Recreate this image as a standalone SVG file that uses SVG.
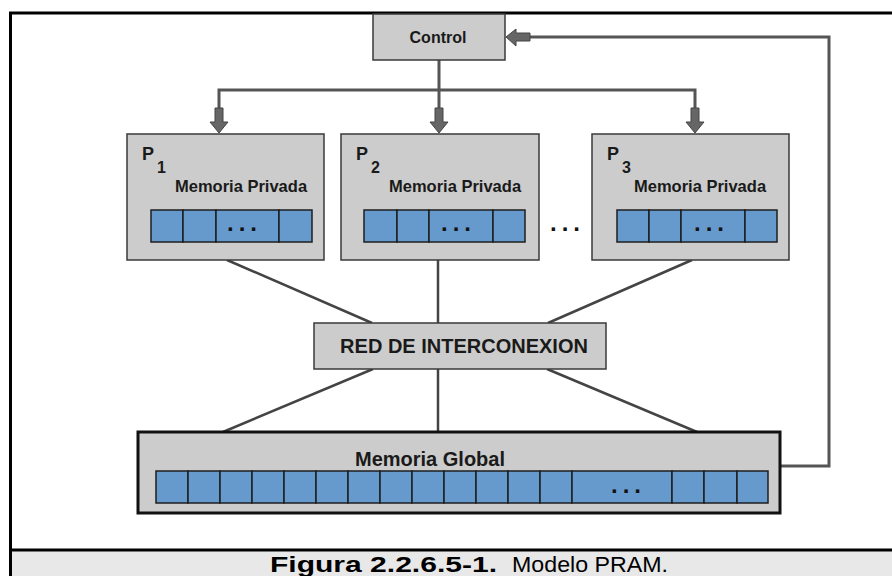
<svg xmlns="http://www.w3.org/2000/svg" width="892" height="576" viewBox="0 0 892 576">
<style>
.box{fill:#cccccc;stroke:#3a3a3a;stroke-width:1.5}
.cell{fill:#6699cc;stroke:#1e1e1e;stroke-width:1.5}
.ln{fill:none;stroke:#444;stroke-width:2.5}
.ctl{fill:none;stroke:#555;stroke-width:3}
.arr{fill:#666;stroke:#444;stroke-width:1}
.t{font-family:"Liberation Sans",Arial,sans-serif;font-weight:bold;fill:#1a1a1a}
.dots{font-family:"Liberation Sans",Arial,sans-serif;font-weight:bold;font-size:24px;fill:#111;letter-spacing:5px}
</style>
<defs>
<path id="downArrow" class="arr" d="M-4,0 L4,0 L4,14 L9,14 L0,25 L-9,14 L-4,14 Z"/>
</defs>
<rect x="0" y="0" width="892" height="576" fill="#ffffff"/>
<rect x="10" y="550" width="882" height="26" fill="#e8e8e8"/>
<g id="frame" fill="none" stroke="#000" stroke-width="3">
<path d="M10.5,576 L10.5,13 L892,13"/>
<path d="M10,550 L892,550"/>
</g>
<g id="connectors">
<path class="ctl" d="M439,60 L439,108"/>
<path class="ctl" d="M219,108 L219,90 L695,90 L695,108"/>
<path class="ctl" d="M780,466 L829,466 L829,37 L530,37"/>
<path class="arr" d="M530,33 L516,33 L516,29 L506,37 L516,46 L516,41 L530,41 Z"/>
<use href="#downArrow" x="219" y="108"/>
<use href="#downArrow" x="439" y="108"/>
<use href="#downArrow" x="695" y="108"/>
<path class="ln" d="M227,260 L372,323"/>
<path class="ln" d="M438,260 L438,323"/>
<path class="ln" d="M692,260 L548,323"/>
<path class="ln" d="M373,369 L223,432"/>
<path class="ln" d="M438,369 L438,432"/>
<path class="ln" d="M547,369 L697,432"/>
</g>
<g id="control">
<rect class="box" x="373" y="14" width="132" height="46"/>
<text class="t" x="438" y="43" font-size="16" text-anchor="middle">Control</text>
</g>
<g id="p1">
<rect class="box" x="127" y="134" width="197" height="126"/>
<text class="t" x="142" y="160" font-size="18">P</text>
<text class="t" x="157" y="173" font-size="16">1</text>
<text class="t" x="175" y="192" font-size="16.5">Memoria Privada</text>
<rect class="cell" x="151" y="210" width="32" height="32"/>
<rect class="cell" x="183" y="210" width="33" height="32"/>
<rect class="cell" x="216" y="210" width="63" height="32"/>
<rect class="cell" x="279" y="210" width="33" height="32"/>
<text class="dots" x="227" y="231">...</text>
</g>
<g id="p2">
<rect class="box" x="341" y="134" width="198" height="126"/>
<text class="t" x="356" y="160" font-size="18">P</text>
<text class="t" x="371" y="173" font-size="16">2</text>
<text class="t" x="389" y="192" font-size="16.5">Memoria Privada</text>
<rect class="cell" x="364" y="210" width="33" height="32"/>
<rect class="cell" x="397" y="210" width="32" height="32"/>
<rect class="cell" x="429" y="210" width="64" height="32"/>
<rect class="cell" x="493" y="210" width="32" height="32"/>
<text class="dots" x="441" y="231">...</text>
</g>
<g id="ellipsis">
<text class="dots" x="550" y="231">...</text>
</g>
<g id="p3">
<rect class="box" x="592" y="134" width="197" height="126"/>
<text class="t" x="607" y="160" font-size="18">P</text>
<text class="t" x="622" y="173" font-size="16">3</text>
<text class="t" x="634" y="192" font-size="16.5">Memoria Privada</text>
<rect class="cell" x="617" y="210" width="32" height="32"/>
<rect class="cell" x="649" y="210" width="32" height="32"/>
<rect class="cell" x="681" y="210" width="64" height="32"/>
<rect class="cell" x="745" y="210" width="32" height="32"/>
<text class="dots" x="694" y="231">...</text>
</g>
<g id="red">
<rect class="box" x="314" y="323" width="292" height="46"/>
<text class="t" x="464" y="353" font-size="20" text-anchor="middle">RED DE INTERCONEXION</text>
</g>
<g id="global">
<rect x="138" y="432" width="642" height="81" fill="#cccccc" stroke="#111" stroke-width="3"/>
<text class="t" x="430" y="466" font-size="20" text-anchor="middle">Memoria Global</text>
<rect class="cell" x="156" y="471" width="32" height="32"/>
<rect class="cell" x="188" y="471" width="32" height="32"/>
<rect class="cell" x="220" y="471" width="32" height="32"/>
<rect class="cell" x="252" y="471" width="32" height="32"/>
<rect class="cell" x="284" y="471" width="32" height="32"/>
<rect class="cell" x="316" y="471" width="32" height="32"/>
<rect class="cell" x="348" y="471" width="32" height="32"/>
<rect class="cell" x="380" y="471" width="32" height="32"/>
<rect class="cell" x="412" y="471" width="32" height="32"/>
<rect class="cell" x="444" y="471" width="32" height="32"/>
<rect class="cell" x="476" y="471" width="32" height="32"/>
<rect class="cell" x="508" y="471" width="32" height="32"/>
<rect class="cell" x="540" y="471" width="32" height="32"/>
<rect class="cell" x="572" y="471" width="100" height="32"/>
<rect class="cell" x="672" y="471" width="32" height="32"/>
<rect class="cell" x="704" y="471" width="33" height="32"/>
<rect class="cell" x="737" y="471" width="31" height="32"/>
<text class="dots" x="611" y="493">...</text>
</g>
<g id="caption">
<text x="270" y="572" font-family="'Liberation Sans',Arial,sans-serif" font-size="22.5" font-weight="bold" fill="#000" textLength="227" lengthAdjust="spacingAndGlyphs">Figura 2.2.6.5-1.</text>
<text x="512" y="572" font-family="'Liberation Sans',Arial,sans-serif" font-size="22.5" fill="#000" textLength="156" lengthAdjust="spacingAndGlyphs">Modelo PRAM.</text>
</g>
</svg>
